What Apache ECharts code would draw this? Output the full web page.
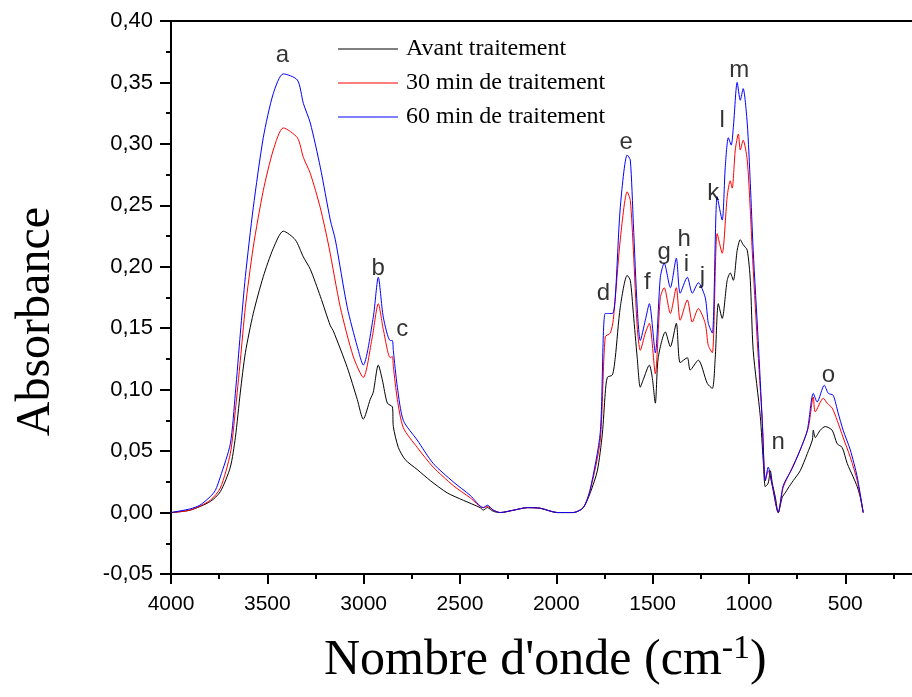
<!DOCTYPE html>
<html>
<head>
<meta charset="utf-8">
<title>Spectres IR - Absorbance</title>
<script src="https://cdn.jsdelivr.net/npm/echarts@6/dist/echarts.min.js"></script>
<style>
  html, body { margin: 0; padding: 0; background: #fff; overflow: hidden; }
  #chart { width: 912px; height: 697px; }
</style>
</head>
<body>
<div id="chart"></div>
<script>
// Series names (legend)
const seriesNames = ['Avant traitement', '30 min de traitement', '60 min de traitement'];
const seriesColors = ['#000000', '#ff0000', '#0000ff'];

// Avant traitement
const waveAvant = [4000,3900,3796,3744,3692,3666,3640,3614,3573,3521,3469,3417,3355,3313,3277,3225,3173,3158,3085,3033,3002,2966,2950,2924,2903,2877,2851,2846,2820,2784,2722,2654,2566,2483,2395,2379,2358,2327,2291,2220,2151,2083,1995,1912,1860,1824,1787,1761,1746,1735,1709,1694,1668,1632,1616,1600,1580,1564,1549,1517,1502,1486,1471,1434,1408,1377,1357,1320,1305,1263,1216,1190,1175,1159,1139,1113,1097,1081,1061,1045,1030,1009,993,978,941,926,915,900,889,879,863,848,827,812,796,770,734,697,671,666,656,630,604,568,542,516,490,459,438,422,407];
const absAvant = [0.000,0.002,0.009,0.017,0.037,0.061,0.098,0.130,0.162,0.192,0.215,0.229,0.222,0.208,0.198,0.176,0.152,0.148,0.118,0.092,0.076,0.092,0.098,0.120,0.108,0.089,0.086,0.070,0.053,0.043,0.035,0.026,0.016,0.010,0.004,0.002,0.004,0.001,0.000,0.002,0.004,0.0035,0.000,0.000,0.004,0.016,0.034,0.064,0.097,0.110,0.112,0.126,0.167,0.193,0.189,0.162,0.126,0.102,0.108,0.120,0.110,0.089,0.126,0.147,0.135,0.154,0.122,0.126,0.116,0.124,0.105,0.101,0.126,0.170,0.158,0.189,0.195,0.189,0.2135,0.222,0.218,0.2135,0.189,0.132,0.078,0.0425,0.021,0.024,0.034,0.024,0.0125,0.000,0.0125,0.016,0.020,0.026,0.034,0.048,0.059,0.067,0.061,0.067,0.070,0.067,0.056,0.053,0.040,0.029,0.021,0.0125,0.000];

// 30 min de traitement
const wave30 = [4000,3900,3796,3744,3692,3666,3640,3614,3573,3521,3469,3417,3344,3313,3277,3225,3180,3121,3054,3002,2955,2924,2898,2862,2851,2846,2825,2794,2722,2639,2535,2447,2379,2358,2327,2291,2220,2151,2083,1995,1912,1860,1824,1772,1746,1720,1704,1668,1632,1616,1600,1580,1564,1538,1517,1486,1460,1440,1408,1377,1357,1320,1294,1263,1227,1211,1190,1165,1139,1113,1097,1087,1071,1055,1045,1030,1009,993,983,957,931,915,900,879,848,822,786,734,692,666,656,614,594,568,542,511,474,438,407];
const abs30 = [0.000,0.002,0.010,0.020,0.048,0.083,0.124,0.167,0.216,0.262,0.295,0.313,0.305,0.289,0.276,0.248,0.216,0.167,0.127,0.110,0.143,0.170,0.149,0.126,0.127,0.119,0.092,0.069,0.053,0.037,0.022,0.012,0.004,0.005,0.002,0.000,0.002,0.004,0.0035,0.000,0.000,0.004,0.018,0.059,0.143,0.146,0.157,0.222,0.261,0.254,0.2135,0.151,0.132,0.146,0.154,0.113,0.175,0.183,0.162,0.183,0.1565,0.173,0.155,0.166,0.154,0.136,0.130,0.227,0.211,0.257,0.270,0.264,0.295,0.308,0.295,0.303,0.287,0.246,0.213,0.140,0.075,0.026,0.034,0.022,0.000,0.0206,0.033,0.051,0.069,0.094,0.082,0.093,0.089,0.085,0.075,0.061,0.045,0.026,0.000];

// 60 min de traitement
const wave60 = [4000,3900,3850,3796,3770,3744,3692,3666,3640,3614,3573,3521,3469,3417,3344,3313,3277,3225,3173,3147,3085,3033,3002,2950,2924,2898,2862,2851,2846,2825,2794,2722,2639,2535,2447,2379,2358,2327,2291,2220,2151,2083,1995,1912,1860,1824,1772,1746,1709,1694,1668,1632,1616,1600,1580,1564,1538,1517,1486,1460,1440,1408,1377,1357,1320,1294,1263,1227,1211,1190,1165,1139,1123,1107,1092,1081,1061,1045,1030,1009,993,978,952,931,915,900,879,848,822,775,734,697,666,646,609,588,563,537,511,474,438,407];
const abs60 = [0.000,0.003,0.006,0.013,0.018,0.029,0.056,0.097,0.146,0.192,0.248,0.305,0.341,0.357,0.352,0.333,0.317,0.281,0.238,0.222,0.167,0.135,0.120,0.159,0.1915,0.159,0.140,0.140,0.132,0.102,0.075,0.059,0.040,0.025,0.014,0.004,0.006,0.002,0.000,0.002,0.004,0.0035,0.000,0.000,0.004,0.019,0.065,0.162,0.162,0.175,0.248,0.291,0.287,0.235,0.167,0.140,0.1565,0.170,0.130,0.1915,0.203,0.183,0.207,0.1785,0.1915,0.1785,0.187,0.175,0.154,0.146,0.257,0.238,0.281,0.305,0.299,0.3135,0.350,0.3355,0.345,0.317,0.268,0.2135,0.140,0.075,0.026,0.037,0.022,0.000,0.022,0.036,0.051,0.067,0.097,0.090,0.1036,0.097,0.0955,0.081,0.067,0.051,0.029,0.000];

// Band letters placed above the peaks
const bandLetters = ['a','b','c','d','e','f','g','h','i','j','k','l','m','n','o'];
const bandWave = [3422,2924,2800,1756,1637,1528,1440,1336,1325,1242,1185,1139,1050,848,588];
const bandAbs = [0.372,0.199,0.149,0.178,0.301,0.187,0.212,0.222,0.202,0.192,0.260,0.319,0.360,0.057,0.112];

const zip = (xs, ys) => xs.map((x, i) => [x, ys[i]]);
const waves = [waveAvant, wave30, wave60];
const absorb = [absAvant, abs30, abs60];

const chart = echarts.init(document.getElementById('chart'), null, { renderer: 'canvas' });

const sans = 'Liberation Sans, Arial, sans-serif';
const serif = 'Liberation Serif, Times New Roman, serif';

const lineSeries = seriesNames.map((name, k) => ({
  name: name,
  type: 'line',
  data: zip(waves[k], absorb[k]),
  showSymbol: false,
  smooth: 0.25,
  color: seriesColors[k],
  itemStyle: { color: seriesColors[k] },
  lineStyle: { width: 1, color: seriesColors[k] },
  animation: false,
  z: 2 + k
}));

const labelSeries = {
  name: 'bandes',
  type: 'scatter',
  symbolSize: 0,
  data: bandLetters.map((t, i) => ({ name: t, value: [bandWave[i], bandAbs[i]] })),
  label: {
    show: true,
    position: 'inside',
    formatter: p => p.name,
    fontFamily: sans,
    fontSize: 24,
    color: '#000',
    textBorderWidth: 0
  },
  silent: true,
  animation: false,
  z: 10
};

const fmt = v => (Math.round(v * 100) / 100).toFixed(2).replace('.', ',');

// The wavenumber axis runs from 4000 down to 0; its low end lies past the right edge.
chart.setOption({
  backgroundColor: '#ffffff',
  animation: false,
  grid: { left: 171, top: 21, bottom: 123, width: 770.6, containLabel: false, outerBoundsMode: 'none' },
  legend: {
    data: seriesNames.map((n, k) => ({
      name: n,
      icon: 'path://M0,0H60V1H0Z',
      itemStyle: { color: seriesColors[k], borderWidth: 0 },
      lineStyle: { color: seriesColors[k], width: 0 }
    })),
    orient: 'vertical',
    left: 338,
    top: 37,
    padding: 0,
    itemWidth: 60,
    itemHeight: 23,
    itemGap: 10,
    textStyle: { fontFamily: serif, fontSize: 24, color: '#000', lineHeight: 23, padding: [0, 0, 0, 3] },
    selectedMode: false
  },
  xAxis: [
    {
      type: 'value',
      inverse: true,
      min: 0,
      max: 4000,
      interval: 500,
      position: 'bottom',
      axisLine: { show: true, onZero: false, lineStyle: { color: '#000', width: 2 } },
      axisTick: { show: true, inside: false, length: 10, lineStyle: { color: '#000', width: 2 } },
      minorTick: { show: true, splitNumber: 2, length: 5, lineStyle: { color: '#000', width: 2 } },
      axisLabel: { show: true, margin: 20, fontFamily: sans, fontSize: 21, color: '#000',
        formatter: v => (v === 0 ? '' : String(v)) },
      splitLine: { show: false }
    },
    {
      type: 'value',
      inverse: true,
      min: 0,
      max: 4000,
      position: 'top',
      axisLine: { show: true, onZero: false, lineStyle: { color: '#000', width: 2 } },
      axisTick: { show: false },
      axisLabel: { show: false },
      splitLine: { show: false }
    }
  ],
  yAxis: {
    type: 'value',
    min: -0.05,
    max: 0.40,
    interval: 0.05,
    axisLine: { show: true, onZero: false, lineStyle: { color: '#000', width: 2 } },
    axisTick: { show: true, inside: false, length: 11, lineStyle: { color: '#000', width: 2 } },
    minorTick: { show: true, splitNumber: 2, length: 5, lineStyle: { color: '#000', width: 2 } },
    axisLabel: { show: true, margin: 18, fontFamily: sans, fontSize: 22, color: '#000', formatter: fmt },
    splitLine: { show: false }
  },
  graphic: [
    {
      type: 'text',
      left: 12,
      top: 207,
      rotation: Math.PI / 2,
      style: { text: 'Absorbance', font: '48px ' + serif, fill: '#000' }
    },
    {
      type: 'text',
      left: 324,
      top: 632,
      style: {
        text: "{m|Nombre d'onde (cm}{s|-1}{m|)}",
        rich: {
          m: { fontFamily: serif, fontSize: 50, fill: '#000', color: '#000', verticalAlign: 'bottom' },
          s: { fontFamily: serif, fontSize: 34, fill: '#000', color: '#000', verticalAlign: 'top', padding: [0, 0, 20, 0] }
        }
      }
    }
  ],
  series: lineSeries.concat([labelSeries])
});
</script>
</body>
</html>
